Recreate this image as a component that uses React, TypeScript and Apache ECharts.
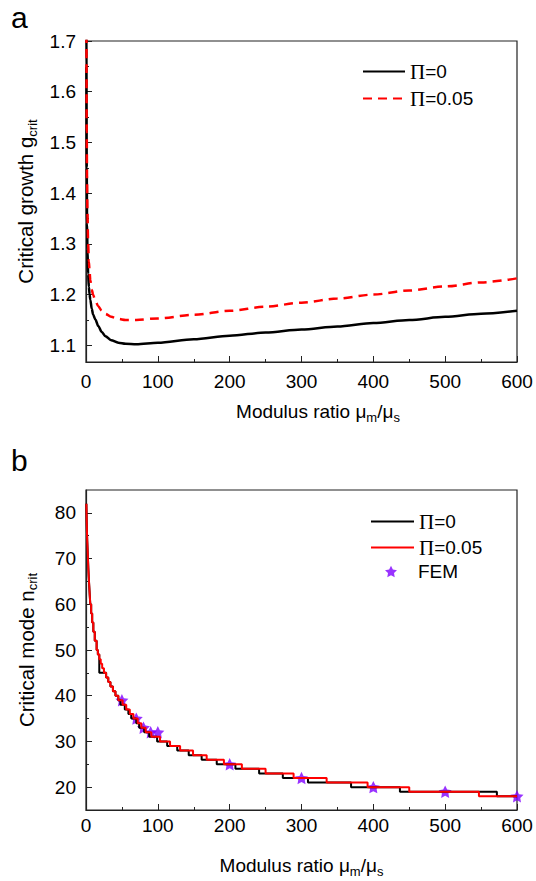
import React, { useEffect, useRef } from 'react';
import * as echarts from 'echarts';

// ---- Panel a: critical growth ----
const topX = [0.3, 0.6, 1, 1.5, 2, 3, 4, 5, 6, 8, 10, 13, 17, 22, 27, 35, 45, 55, 70, 100, 150, 200, 250, 300, 350, 400, 450, 500, 550, 600];
const topBlack = [1.9, 1.65, 1.45, 1.34, 1.29, 1.24, 1.215, 1.2, 1.19, 1.172, 1.16, 1.151, 1.138, 1.126, 1.118, 1.11, 1.105, 1.103, 1.102, 1.105, 1.112, 1.119, 1.125, 1.131, 1.137, 1.144, 1.15, 1.156, 1.162, 1.168];
const topRed = [1.95, 1.72, 1.52, 1.42, 1.36, 1.3, 1.265, 1.245, 1.228, 1.21, 1.199, 1.188, 1.177, 1.168, 1.162, 1.156, 1.152, 1.15, 1.15, 1.153, 1.16, 1.168, 1.176, 1.184, 1.192, 1.2, 1.208, 1.216, 1.224, 1.232];
const topYTicks = [1.1, 1.2, 1.3, 1.4, 1.5, 1.6, 1.7];
const topYMinor = [1.15, 1.25, 1.35, 1.45, 1.55, 1.65];

// ---- Panel b: critical mode (step transitions: x where n starts) ----
const botRedX = [0.5, 0.75, 1.0, 1.3, 1.7, 2.2, 2.7, 3.2, 3.8, 4.5, 5.2, 6.0, 7.2, 8.6, 10.2, 12.2, 14.8, 16.5, 18.5, 20.5, 22.5, 25, 28, 31, 34, 37.5, 41, 45, 51, 56, 61, 66, 72, 77, 83, 91, 103, 117, 131, 149, 168, 192, 217, 250, 289, 335, 392, 450, 547, 600];
const botRedN = [82, 80, 78, 76, 74, 72, 70, 68, 66, 64, 62, 60, 58, 56, 54, 52, 50, 49, 48, 47, 46, 45, 44, 43, 42, 41, 40, 39, 38, 37, 36, 35, 34, 33, 32, 31, 30, 29, 28, 27, 26, 25, 24, 23, 22, 21, 20, 19, 18, 18];
const botBlackX = [0.5, 0.75, 1.0, 1.3, 1.7, 2.2, 2.7, 3.2, 3.8, 4.5, 5.2, 6.0, 7.2, 8.6, 10.2, 12.2, 14.8, 16.5, 18.5, 28, 31, 34, 37.5, 41, 45, 48, 54, 59, 63, 70, 74, 81, 88, 99, 113, 127, 143, 161, 182, 208, 241, 274, 309, 369, 437, 572, 600];
const botBlackN = [82, 80, 78, 76, 74, 72, 70, 68, 66, 64, 62, 60, 58, 56, 54, 52, 50, 49, 45, 44, 43, 42, 41, 40, 39, 38, 37, 36, 35, 34, 33, 32, 31, 30, 29, 28, 27, 26, 25, 24, 23, 22, 21, 20, 19, 18, 18];
const femX = [50, 70, 80, 90, 100, 200, 300, 400, 500, 600];
const femN = [39, 35, 33, 32, 32, 25, 22, 20, 19, 18];
const botYTicks = [20, 30, 40, 50, 60, 70, 80];
const botYMinor = [25, 35, 45, 55, 65, 75];

const FONT = '"Liberation Sans", Arial, sans-serif';
const SERIF = '"Liberation Serif", "Times New Roman", serif';
const STAR = 'path://M0,-10L2.94,-4.05L9.51,-3.09L4.76,1.55L5.88,8.09L0,5L-5.88,8.09L-4.76,1.55L-9.51,-3.09L-2.94,-4.05Z';
const AX = '#222';

function richFor(size: number, padLeft = 0) {
  return {
    a: { fontSize: size, fontFamily: FONT, color: '#000', lineHeight: 26, padding: [0, 0, 0, padLeft] },
    b: { fontSize: size, fontFamily: FONT, color: '#000', lineHeight: 26 },
    s: { fontSize: 13, fontFamily: FONT, color: '#000', lineHeight: 13, verticalAlign: 'bottom' },
  };
}
const legendRich = {
  p: { fontSize: 21, fontFamily: SERIF, color: '#000', lineHeight: 14 },
  t: { fontSize: 19, fontFamily: FONT, color: '#000', lineHeight: 14 },
  f: { fontSize: 19, fontFamily: FONT, color: '#000', lineHeight: 14, padding: [0, 0, 0, 16] },
};

function xAxis(gridIndex: number, margin: number, nameGap: number, padLeft: number) {
  return {
    type: 'value', gridIndex, min: 0, max: 600, interval: 100,
    axisLine: { show: true, lineStyle: { color: AX, width: 1.2 } },
    axisTick: { show: true, inside: true, length: 6, lineStyle: { color: AX } },
    minorTick: { show: true, splitNumber: 2, length: 3, lineStyle: { color: AX } },
    splitLine: { show: false }, minorSplitLine: { show: false },
    axisLabel: { fontSize: 19, fontFamily: FONT, color: '#000', margin },
    name: '{a|Modulus ratio μ}{s|m}{b|/μ}{s|s}', nameLocation: 'middle', nameGap,
    nameTextStyle: { rich: richFor(19, padLeft) },
  };
}

function yMain(gridIndex: number, min: number, max: number, ticks: number[], dec: number, name: string) {
  return {
    type: 'value', gridIndex, min, max, position: 'left',
    axisLine: { show: true, lineStyle: { color: AX, width: 1.2 } },
    axisTick: { show: true, inside: true, length: 6, lineStyle: { color: AX }, customValues: ticks },
    axisLabel: { fontSize: 19, fontFamily: FONT, color: '#000', margin: 10, customValues: ticks, formatter: (v: number) => v.toFixed(dec) },
    splitLine: { show: false },
    name, nameLocation: 'middle', nameGap: 47, nameTextStyle: { rich: richFor(20.5) },
  };
}
function yMinor(gridIndex: number, min: number, max: number, ticks: number[]) {
  return {
    type: 'value', gridIndex, min, max, position: 'left',
    axisLine: { show: false },
    axisTick: { show: true, inside: true, length: 3, lineStyle: { color: AX }, customValues: ticks },
    axisLabel: { show: false }, splitLine: { show: false },
  };
}

export default function App() {
  const ref = useRef<HTMLDivElement>(null);
  useEffect(() => {
    document.body.style.margin = '0';
    const chart = echarts.init(ref.current!, null, { renderer: 'svg' });
    const legendFmt = (n: string) => {
      if (n === 'a0' || n === 'b0') return '{p|Π}{t|=0}';
      if (n === 'a05' || n === 'b05') return '{p|Π}{t|=0.05}';
      return '{f|FEM}';
    };
    const lineLegend = { orient: 'vertical', padding: 0, itemHeight: 14, formatter: legendFmt, textStyle: { rich: legendRich }, selectedMode: false, itemStyle: { opacity: 0 } };
    chart.setOption({
      animation: false,
      backgroundColor: '#fff',
      grid: [
        { left: 86, right: 19, top: 41, height: 321, show: true, borderColor: AX, borderWidth: 1.2, backgroundColor: 'transparent' },
        { left: 86, right: 19, top: 490, height: 320, show: true, borderColor: AX, borderWidth: 1.2, backgroundColor: 'transparent' },
      ],
      xAxis: [xAxis(0, 10, 36, 33), xAxis(1, 6, 42, 0)],
      yAxis: [
        yMain(0, 1.067, 1.7, topYTicks, 1, '{a|Critical growth g}{s|crit}'),
        yMinor(0, 1.067, 1.7, topYMinor),
        yMain(1, 15, 85, botYTicks, 0, '{a|Critical mode n}{s|crit}'),
        yMinor(1, 15, 85, botYMinor),
      ],
      legend: [
        { ...lineLegend, data: ['a0', 'a05'], left: 362, top: 61, itemWidth: 42, itemGap: 6 },
        { ...lineLegend, data: ['b0', 'b05'], left: 370, top: 511, itemWidth: 43, itemGap: 5 },
        { data: ['FEM'], left: 385, top: 562, padding: 0, orient: 'vertical', itemWidth: 12, itemHeight: 12, formatter: legendFmt, textStyle: { rich: legendRich }, selectedMode: false },
      ],
      graphic: [
        { type: 'text', left: 11, top: 2, style: { text: 'a', fontSize: 30, fontFamily: FONT, fill: '#000' } },
        { type: 'text', left: 11, top: 445, style: { text: 'b', fontSize: 30, fontFamily: FONT, fill: '#000' } },
      ],
      series: [
        {
          type: 'line', name: 'a0', xAxisIndex: 0, yAxisIndex: 0, symbol: 'none', showSymbol: false,
          smooth: 0.3, smoothMonotone: 'x', clip: true,
          data: topX.map((x, i) => [x, topBlack[i]]),
          lineStyle: { color: '#000', width: 2.5 }, itemStyle: { color: '#000' },
        },
        {
          type: 'line', name: 'a05', xAxisIndex: 0, yAxisIndex: 0, symbol: 'none', showSymbol: false,
          smooth: 0.3, smoothMonotone: 'x', clip: true,
          data: topX.map((x, i) => [x, topRed[i]]),
          lineStyle: { color: '#ff0000', width: 2.5, type: [9, 6] }, itemStyle: { color: '#ff0000' },
        },
        {
          type: 'line', name: 'b0', xAxisIndex: 1, yAxisIndex: 2, symbol: 'none', showSymbol: false,
          step: 'end', clip: true,
          data: botBlackX.map((x, i) => [x, botBlackN[i]]),
          lineStyle: { color: '#000', width: 2 }, itemStyle: { color: '#000' },
        },
        {
          type: 'line', name: 'b05', xAxisIndex: 1, yAxisIndex: 2, symbol: 'none', showSymbol: false,
          step: 'end', clip: true,
          data: botRedX.map((x, i) => [x, botRedN[i]]),
          lineStyle: { color: '#ff0000', width: 2 }, itemStyle: { color: '#ff0000' },
        },
        {
          type: 'scatter', name: 'FEM', xAxisIndex: 1, yAxisIndex: 2, symbol: STAR, symbolSize: 13, symbolKeepAspect: true,
          clip: false,
          data: femX.map((x, i) => [x, femN[i]]),
          itemStyle: { color: '#8000ff' },
        },
      ],
    });
    return () => chart.dispose();
  }, []);
  return <div ref={ref} style={{ width: 536, height: 881 }} />;
}
